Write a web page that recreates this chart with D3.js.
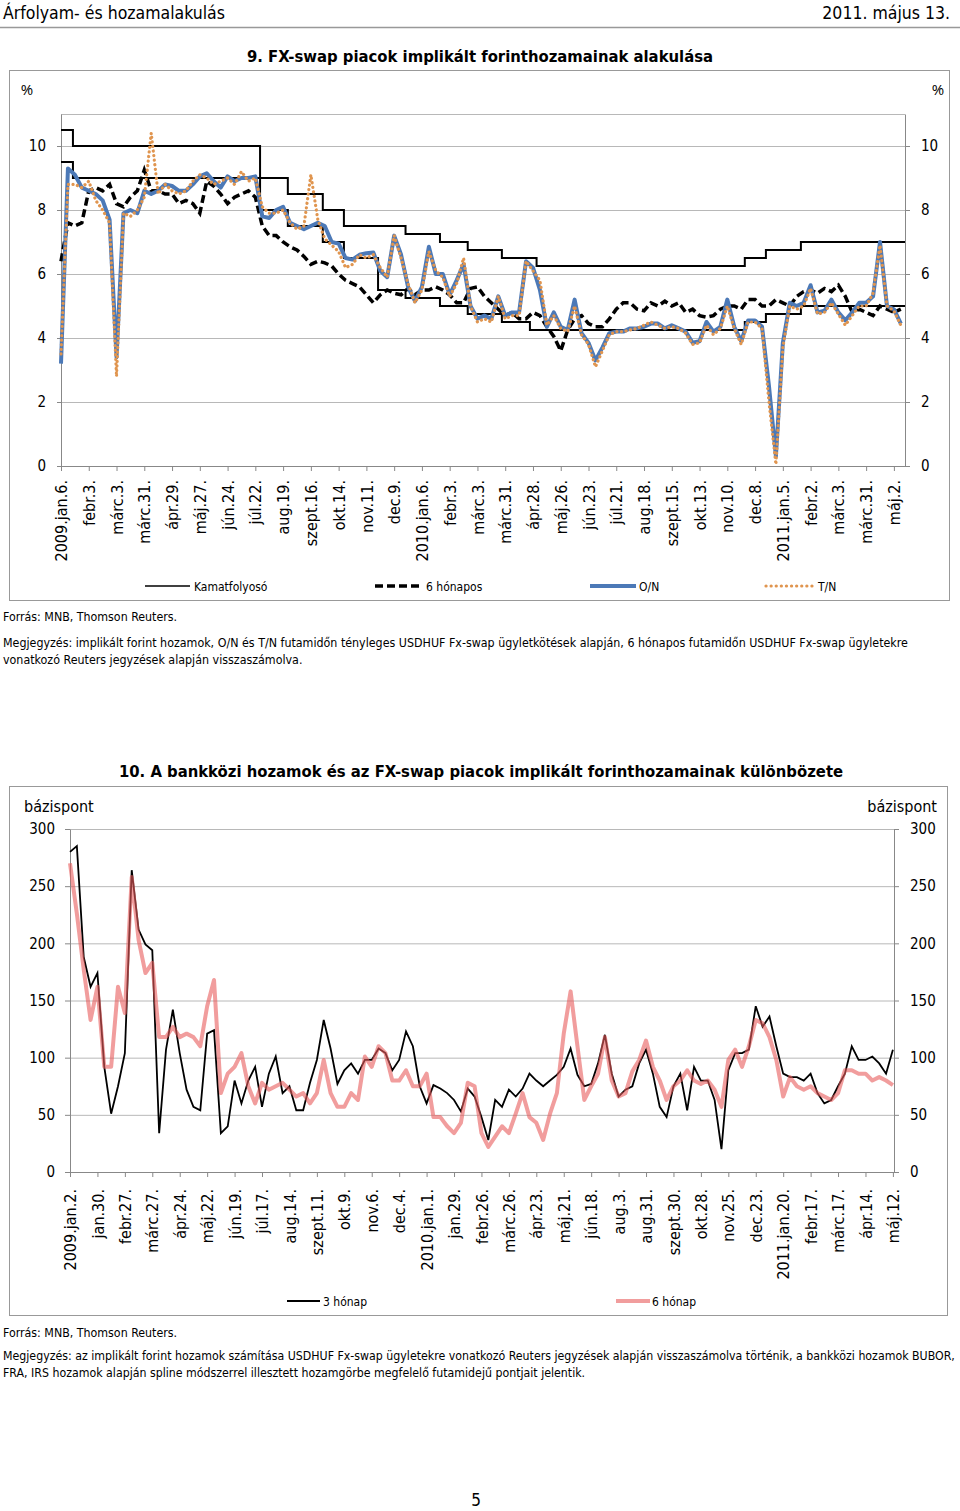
<!DOCTYPE html>
<html>
<head>
<meta charset="utf-8">
<script src="https://cdn.jsdelivr.net/npm/d3@7"></script>
<style>
  body { margin: 0; background: #fff; }
  svg { display: block; }
  text { font-family: "DejaVu Sans Condensed", "DejaVu Sans", sans-serif; }
  .num text, text.num { font-family: "Open Sans", sans-serif; }
</style>
</head>
<body>
<div id="page"></div>
<script>
// ---- 9. abra: x tengely feliratok (minden 20. munkanap)
const labels1 = ["2009.jan.6.", "febr.3.", "márc.3.", "márc.31.", "ápr.29.", "máj.27.", "jún.24.", "júl.22.",
  "aug.19.", "szept.16.", "okt.14.", "nov.11.", "dec.9.", "2010.jan.6.", "febr.3.", "márc.3.", "márc.31.",
  "ápr.28.", "máj.26.", "jún.23.", "júl.21.", "aug.18.", "szept.15.", "okt.13.", "nov.10.", "dec.8.",
  "2011.jan.5.", "febr.2.", "márc.3.", "márc.31.", "máj.2."];

// kamatfolyoso: valtozasi pontok (tengelyosztasban) es szintek
const kamatPont = [0, 0.43, 7.17, 8.17, 9.43, 10.19, 12.41, 13.65, 14.65, 15.88, 17.13, 24.63, 25.39, 26.65, 30.4];
const kamatFelso = [10.5, 10, 9, 8.5, 8, 7.5, 7.25, 7, 6.75, 6.5, 6.25, 6.5, 6.75, 7, 7];
const kamatPontAlso = [0, 0.43, 7.17, 8.17, 9.43, 10.19, 11.42, 12.41, 13.65, 14.65, 15.88, 16.89, 24.63, 25.39, 26.65, 30.4];
const kamatAlso = [9.5, 9, 8, 7.5, 7, 6.5, 5.5, 5.25, 5, 4.75, 4.5, 4.25, 4.5, 4.75, 5, 5];

// napi adatok negyed osztasonkent (%)
const hathonapos = [6.4, 7.6, 7.5, 7.6, 8.6, 8.7, 8.6, 8.8, 8.2, 8.1, 8.4, 8.6, 9.25, 8.6, 8.6, 8.5,
  8.5, 8.2, 8.3, 8.2, 7.9, 8.9, 8.75, 8.5, 8.2, 8.4, 8.5, 8.6, 8.4, 7.5, 7.2, 7.2,
  7.0, 6.85, 6.75, 6.55, 6.3, 6.4, 6.35, 6.25, 6.0, 5.8, 5.7, 5.6, 5.35, 5.1, 5.35, 5.5,
  5.4, 5.35, 5.55, 5.35, 5.5, 5.5, 5.6, 5.5, 5.35, 5.1, 5.1, 5.55, 5.6, 5.3, 5.1, 4.9,
  4.7, 4.8, 4.6, 4.6, 4.8, 4.7, 4.35, 4.05, 3.6, 4.25, 4.6, 4.7, 4.45, 4.35, 4.35, 4.6,
  4.9, 5.1, 5.1, 4.9, 4.85, 5.1, 5.0, 5.15, 5.0, 5.1, 4.8, 4.9, 4.7, 4.65, 4.7, 4.9,
  5.0, 5.0, 4.9, 5.2, 5.2, 5.0, 5.0, 5.2, 5.1, 5.0, 5.3, 5.45, 5.5, 5.4, 5.55, 5.45,
  5.65, 5.3, 4.8, 4.9, 4.8, 4.7, 5.0, 4.9, 4.8, 4.9];
const on = [3.2, 9.3, 9.1, 8.7, 8.6, 8.5, 8.3, 7.7, 3.4, 7.9, 8.0, 7.9, 8.6, 8.5, 8.6, 8.8,
  8.75, 8.6, 8.6, 8.8, 9.05, 9.15, 8.9, 8.7, 9.05, 8.9, 9.0, 9.0, 9.05, 7.8, 7.75, 8.0,
  8.1, 7.6, 7.5, 7.4, 7.5, 7.6, 7.5, 7.0, 6.95, 6.5, 6.45, 6.6, 6.65, 6.67, 6.1, 5.9,
  7.2, 6.6, 5.6, 5.15, 5.6, 6.85, 6.0, 6.0, 5.35, 5.8, 6.3, 5.0, 4.6, 4.7, 4.6, 5.3,
  4.7, 4.8, 4.8, 6.4, 6.2, 5.5, 4.35, 4.8, 4.35, 4.25, 5.2, 4.15, 3.85, 3.3, 3.7, 4.15,
  4.2, 4.2, 4.3, 4.3, 4.35, 4.45, 4.45, 4.3, 4.4, 4.3, 4.2, 3.85, 3.9, 4.5, 4.2, 4.35,
  5.2, 4.35, 3.9, 4.55, 4.55, 4.35, 2.5, 0.3, 3.85, 5.1, 5.0, 5.1, 5.65, 4.8, 4.85, 5.2,
  4.8, 4.55, 4.8, 5.1, 5.1, 5.3, 7.0, 5.0, 4.9, 4.45];
const tn = [3.5, 8.8, 8.8, 8.7, 8.9, 8.3, 8.0, 7.6, 2.8, 7.9, 7.8, 8.0, 8.4, 10.4, 8.5, 8.8,
  8.6, 8.5, 8.6, 8.9, 9.1, 9.0, 8.8, 8.9, 9.0, 8.8, 9.2, 8.9, 9.0, 8.1, 7.9, 7.9,
  8.0, 7.6, 7.4, 7.5, 9.1, 7.7, 7.1, 6.9, 6.7, 6.2, 6.3, 6.6, 6.5, 6.6, 6.2, 5.9,
  7.2, 6.5, 5.7, 5.1, 5.5, 6.7, 6.1, 5.9, 5.3, 5.7, 6.5, 5.0, 4.5, 4.6, 4.5, 5.3,
  4.6, 4.7, 4.7, 6.4, 6.1, 5.8, 4.4, 4.7, 4.3, 4.2, 5.0, 4.1, 3.8, 3.1, 3.6, 4.1,
  4.2, 4.2, 4.25, 4.3, 4.4, 4.5, 4.4, 4.3, 4.35, 4.3, 4.15, 3.8, 3.85, 4.4, 4.1, 4.3,
  5.0, 4.3, 3.8, 4.5, 4.5, 4.3, 2.0, 0.05, 3.7, 5.0, 4.9, 5.0, 5.55, 4.75, 4.8, 5.1,
  4.75, 4.4, 4.7, 5.0, 5.0, 5.4, 6.9, 5.0, 4.85, 4.4];

// ---- 10. abra
const labels2 = ["2009.jan.2.", "jan.30.", "febr.27.", "márc.27.", "ápr.24.", "máj.22.", "jún.19.", "júl.17.",
  "aug.14.", "szept.11.", "okt.9.", "nov.6.", "dec.4.", "2010.jan.1.", "jan.29.", "febr.26.", "márc.26.",
  "ápr.23.", "máj.21.", "jún.18.", "aug.3.", "aug.31.", "szept.30.", "okt.28.", "nov.25.", "dec.23.",
  "2011.jan.20.", "febr.17.", "márc.17.", "ápr.14.", "máj.12."];
const harom = [280, 285, 188, 162, 174, 92, 51, 75, 104, 264, 212, 199, 194, 34, 107, 142,
  104, 72, 57, 54, 121, 124, 34, 40, 80, 60, 80, 92, 57, 86, 101, 69,
  75, 54, 54, 78, 98, 133, 108, 77, 89, 95, 86, 98, 98, 108, 104, 89,
  98, 123, 110, 75, 60, 76, 73, 69, 63, 53, 73, 66, 48, 28, 63, 57,
  72, 66, 73, 86, 80, 75, 80, 85, 92, 108, 85, 75, 77, 95, 120, 86,
  66, 72, 75, 95, 107, 86, 57, 48, 75, 86, 54, 92, 80, 80, 63, 20,
  89, 104, 104, 107, 145, 127, 136, 110, 86, 83, 83, 80, 86, 69, 60, 63,
  75, 86, 110, 98, 98, 101, 95, 86, 107];
const hat = [270, 226, 177, 133, 162, 92, 92, 162, 139, 258, 203, 174, 183, 118, 118, 127,
  118, 121, 118, 110, 145, 168, 69, 86, 92, 104, 75, 60, 78, 72, 75, 78,
  72, 66, 69, 60, 69, 98, 69, 57, 57, 69, 63, 101, 92, 110, 104, 80,
  80, 89, 75, 75, 86, 48, 48, 40, 34, 43, 78, 75, 34, 22, 31, 40,
  34, 51, 69, 48, 43, 28, 51, 69, 121, 158, 110, 63, 75, 86, 118, 80,
  66, 69, 88, 98, 115, 92, 80, 63, 75, 80, 89, 80, 77, 80, 72, 57,
  98, 107, 92, 110, 133, 130, 118, 98, 66, 83, 75, 72, 75, 69, 66, 63,
  69, 89, 89, 86, 86, 80, 83, 80, 76];

const STEP = 0.25;
const toPts = arr => arr.map((v, i) => [i * STEP, v]);

const svg = d3.select("#page").append("svg").attr("width", 960).attr("height", 1511);
svg.append("rect").attr("width", 960).attr("height", 1511).attr("fill", "#fff");

// fejlec
svg.append("text").attr("x", 3).attr("y", 19).attr("font-size", 17.5).text("Árfolyam- és hozamalakulás");
svg.append("text").attr("x", 950).attr("y", 19).attr("font-size", 17.5).attr("text-anchor", "end").text("2011. május 13.");
svg.append("line").attr("x1", 0).attr("x2", 960).attr("y1", 27.5).attr("y2", 27.5).attr("stroke", "#999").attr("stroke-width", 1.5);

function styleAxis(g) {
  g.select(".domain").attr("stroke", "#888");
  g.selectAll(".tick line").attr("stroke", "#888");
  g.selectAll("text").attr("fill", "#000").attr("font-family", "Open Sans, sans-serif");
}

function rotateLabels(g, off) {
  g.selectAll("text")
    .attr("font-size", 16)
    .attr("transform", "rotate(-90)")
    .attr("text-anchor", "end")
    .attr("x", -off).attr("y", 0).attr("dy", "0.35em");
}

// ================= 9. abra =================
(function () {
  svg.append("text").attr("x", 480).attr("y", 62).attr("font-size", 16.5).attr("font-weight", "bold")
    .attr("text-anchor", "middle").text("9. FX-swap piacok implikált forinthozamainak alakulása");
  svg.append("rect").attr("x", 9.5).attr("y", 70.5).attr("width", 940).attr("height", 530)
    .attr("fill", "none").attr("stroke", "#999");

  const x = d3.scaleLinear().domain([0, 30.4]).range([61, 905]);
  const y = d3.scaleLinear().domain([0, 11]).range([466, 114]);
  const yTicks = [0, 2, 4, 6, 8, 10];

  const g = svg.append("g");
  g.selectAll(".grid").data(yTicks.concat([11])).enter().append("line")
    .attr("x1", x(0)).attr("x2", x(30.4)).attr("y1", d => y(d) + 0.5).attr("y2", d => y(d) + 0.5)
    .attr("stroke", "#b8b8b8");

  const ax = g.append("g").attr("transform", `translate(0,${y(0)})`)
    .call(d3.axisBottom(x).tickValues(d3.range(labels1.length)).tickFormat(i => labels1[i]).tickSize(5).tickSizeOuter(0));
  styleAxis(ax); rotateLabels(ax, 14);

  const al = g.append("g").attr("transform", `translate(${x(0)},0)`)
    .call(d3.axisLeft(y).tickValues(yTicks).tickSize(4).tickSizeOuter(0).tickPadding(11));
  styleAxis(al); al.selectAll("text").attr("font-size", 15);
  const ar = g.append("g").attr("transform", `translate(${x(30.4)},0)`)
    .call(d3.axisRight(y).tickValues(yTicks).tickSize(5).tickSizeOuter(0).tickPadding(11));
  styleAxis(ar); ar.selectAll("text").attr("font-size", 15);

  svg.append("text").attr("class", "num").attr("x", 27).attr("y", 95).attr("font-size", 15).attr("text-anchor", "middle").text("%");
  svg.append("text").attr("class", "num").attr("x", 938).attr("y", 95).attr("font-size", 15).attr("text-anchor", "middle").text("%");

  const step = d3.line().x(d => x(d[0])).y(d => y(d[1])).curve(d3.curveStepAfter);
  const line = d3.line().x(d => x(d[0])).y(d => y(d[1]));

  g.append("path").datum(kamatPont.map((p, i) => [p, kamatFelso[i]])).attr("d", step)
    .attr("fill", "none").attr("stroke", "#000").attr("stroke-width", 2);
  g.append("path").datum(kamatPontAlso.map((p, i) => [p, kamatAlso[i]])).attr("d", step)
    .attr("fill", "none").attr("stroke", "#000").attr("stroke-width", 2);
  g.append("path").datum(toPts(hathonapos)).attr("d", line)
    .attr("fill", "none").attr("stroke", "#000").attr("stroke-width", 3.5).attr("stroke-dasharray", "8,4");
  g.append("path").datum(toPts(on)).attr("d", line)
    .attr("fill", "none").attr("stroke", "#4c79b7").attr("stroke-width", 4).attr("stroke-linejoin", "round");
  g.append("path").datum(toPts(tn)).attr("d", line)
    .attr("fill", "none").attr("stroke", "#e0954f").attr("stroke-width", 3.2)
    .attr("stroke-dasharray", "0.1,4.5").attr("stroke-linecap", "round");

  // jelmagyarazat
  const leg = [
    { name: "Kamatfolyosó", x1: 145, x2: 190, tx: 194, s: { stroke: "#000", w: 1.5 } },
    { name: "6 hónapos", x1: 375, x2: 423, tx: 426, s: { stroke: "#000", w: 3.5, dash: "8,4" } },
    { name: "O/N", x1: 590, x2: 636, tx: 639, s: { stroke: "#4c79b7", w: 4 } },
    { name: "T/N", x1: 766, x2: 812, tx: 818, s: { stroke: "#e0954f", w: 3.2, dash: "0.1,5", cap: "round" } }
  ];
  leg.forEach(l => {
    svg.append("line").attr("x1", l.x1).attr("x2", l.x2).attr("y1", 586).attr("y2", 586)
      .attr("stroke", l.s.stroke).attr("stroke-width", l.s.w)
      .attr("stroke-dasharray", l.s.dash || null).attr("stroke-linecap", l.s.cap || null);
    svg.append("text").attr("x", l.tx).attr("y", 590.5).attr("font-size", 12).text(l.name);
  });

  svg.append("text").attr("x", 3).attr("y", 621).attr("font-size", 12.3).text("Forrás: MNB, Thomson Reuters.");
  svg.append("text").attr("x", 3).attr("y", 647).attr("font-size", 12.35)
    .text("Megjegyzés: implikált forint hozamok, O/N és T/N futamidőn tényleges USDHUF Fx-swap ügyletkötések alapján, 6 hónapos futamidőn USDHUF Fx-swap ügyletekre");
  svg.append("text").attr("x", 3).attr("y", 664).attr("font-size", 12.35)
    .text("vonatkozó Reuters jegyzések alapján visszaszámolva.");
})();

// ================= 10. abra =================
(function () {
  svg.append("text").attr("x", 481).attr("y", 777).attr("font-size", 16.5).attr("font-weight", "bold")
    .attr("text-anchor", "middle").text("10. A bankközi hozamok és az FX-swap piacok implikált forinthozamainak különbözete");
  svg.append("rect").attr("x", 9.5).attr("y", 786.5).attr("width", 938).attr("height", 529)
    .attr("fill", "none").attr("stroke", "#999");

  const x = d3.scaleLinear().domain([0, 30.04]).range([70, 894]);
  const y = d3.scaleLinear().domain([0, 300]).range([1172, 829]);
  const yTicks = [0, 50, 100, 150, 200, 250, 300];

  const g = svg.append("g");
  g.selectAll(".grid").data(yTicks).enter().append("line")
    .attr("x1", x(0)).attr("x2", x(30.04)).attr("y1", d => y(d) + 0.5).attr("y2", d => y(d) + 0.5)
    .attr("stroke", "#b8b8b8");

  const ax = g.append("g").attr("transform", `translate(0,${y(0)})`)
    .call(d3.axisBottom(x).tickValues(d3.range(labels2.length)).tickFormat(i => labels2[i]).tickSize(5).tickSizeOuter(0));
  styleAxis(ax); rotateLabels(ax, 17);

  const al = g.append("g").attr("transform", `translate(${x(0)},0)`)
    .call(d3.axisLeft(y).tickValues(yTicks).tickSize(5).tickSizeOuter(0).tickPadding(10));
  styleAxis(al); al.selectAll("text").attr("font-size", 15);
  const ar = g.append("g").attr("transform", `translate(${x(30.04)},0)`)
    .call(d3.axisRight(y).tickValues(yTicks).tickSize(5).tickSizeOuter(0).tickPadding(11));
  styleAxis(ar); ar.selectAll("text").attr("font-size", 15);

  svg.append("text").attr("x", 24).attr("y", 812).attr("font-size", 16).text("bázispont");
  svg.append("text").attr("x", 937).attr("y", 812).attr("font-size", 16).attr("text-anchor", "end").text("bázispont");

  const line = d3.line().x(d => x(d[0])).y(d => y(d[1]));
  g.append("path").datum(toPts(harom)).attr("d", line)
    .attr("fill", "none").attr("stroke", "#000").attr("stroke-width", 1.8);
  g.append("path").datum(toPts(hat)).attr("d", line)
    .attr("fill", "none").attr("stroke", "#e85c5c").attr("stroke-opacity", 0.6).attr("stroke-width", 4)
    .attr("stroke-linejoin", "round");

  svg.append("line").attr("x1", 287).attr("x2", 320).attr("y1", 1301).attr("y2", 1301).attr("stroke", "#000").attr("stroke-width", 2);
  svg.append("text").attr("x", 323).attr("y", 1305.5).attr("font-size", 12).text("3 hónap");
  svg.append("line").attr("x1", 616).attr("x2", 650).attr("y1", 1301).attr("y2", 1301).attr("stroke", "#e85c5c")
    .attr("stroke-opacity", 0.6).attr("stroke-width", 4);
  svg.append("text").attr("x", 652).attr("y", 1305.5).attr("font-size", 12).text("6 hónap");

  svg.append("text").attr("x", 3).attr("y", 1337).attr("font-size", 12.3).text("Forrás: MNB, Thomson Reuters.");
  svg.append("text").attr("x", 3).attr("y", 1360).attr("font-size", 12.25)
    .text("Megjegyzés: az implikált forint hozamok számítása USDHUF Fx-swap ügyletekre vonatkozó Reuters jegyzések alapján visszaszámolva történik, a bankközi hozamok BUBOR,");
  svg.append("text").attr("x", 3).attr("y", 1377).attr("font-size", 12.25)
    .text("FRA, IRS hozamok alapján spline módszerrel illesztett hozamgörbe megfelelő futamidejű pontjait jelentik.");
})();

svg.append("text").attr("x", 476).attr("y", 1506).attr("font-size", 17).attr("text-anchor", "middle").text("5");
</script>
</body>
</html>
